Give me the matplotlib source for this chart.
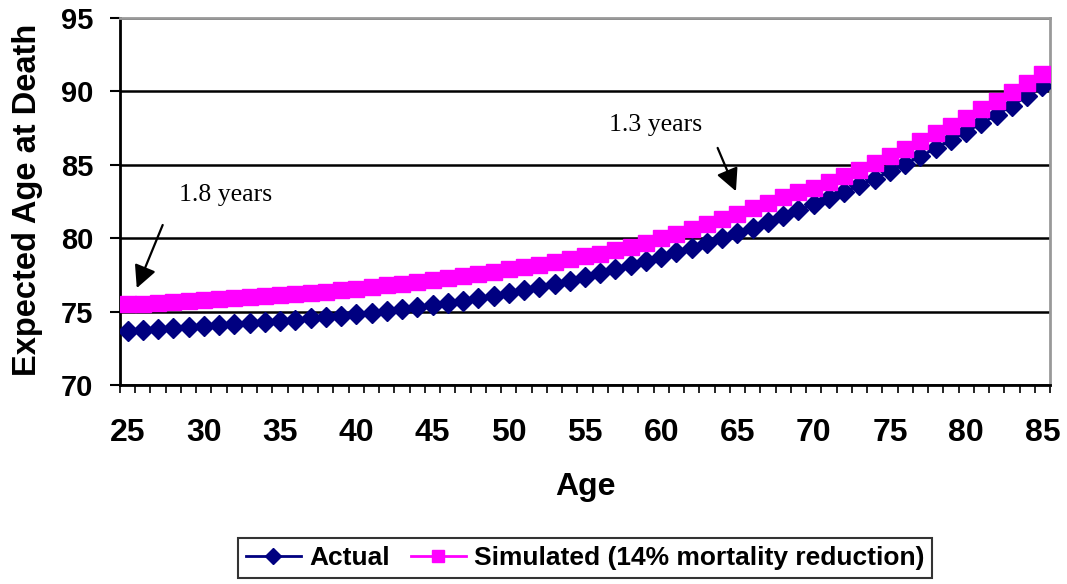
import matplotlib
matplotlib.use("Agg")
import matplotlib.pyplot as plt
import numpy as np

ages = list(range(25, 86))
actual = [73.70, 73.75, 73.82, 73.88, 73.95, 74.02, 74.08, 74.15, 74.23, 74.30,
          74.38, 74.46, 74.54, 74.63, 74.72, 74.82, 74.93, 75.04, 75.16, 75.29,
          75.43, 75.58, 75.74, 75.91, 76.09, 76.28, 76.48, 76.68, 76.89, 77.11,
          77.35, 77.60, 77.87, 78.15, 78.44, 78.74, 79.04, 79.35, 79.68, 80.02,
          80.36, 80.72, 81.10, 81.50, 81.90, 82.30, 82.72, 83.15, 83.60, 84.06,
          84.55, 85.05, 85.58, 86.12, 86.68, 87.25, 87.82, 88.40, 89.02, 89.68,
          90.35]
simulated = [75.50, 75.55, 75.61, 75.66, 75.72, 75.78, 75.84, 75.90, 75.97, 76.04,
             76.11, 76.19, 76.27, 76.36, 76.46, 76.56, 76.67, 76.78, 76.90, 77.02,
             77.15, 77.28, 77.42, 77.57, 77.72, 77.88, 78.04, 78.20, 78.40, 78.58,
             78.76, 78.94, 79.20, 79.43, 79.70, 79.98, 80.27, 80.60, 80.95, 81.30,
             81.68, 82.04, 82.40, 82.78, 83.12, 83.45, 83.82, 84.22, 84.65, 85.10,
             85.57, 86.07, 86.60, 87.14, 87.67, 88.20, 88.78, 89.34, 89.93, 90.54,
             91.17]
yticks = [70, 75, 80, 85, 90, 95]
xlabels = [str(a) for a in ages[::5]]

plt.rcParams['font.family'] = ['Liberation Sans', 'DejaVu Sans']

fig = plt.figure(figsize=(10.67, 5.84), dpi=100)
ax = fig.add_axes([120/1067, 1 - 385/584, 930/1067, 367/584])

x = np.arange(len(ages))
ax.plot(x, actual, color='#000080', lw=2, marker='D', markersize=10.5,
        label='Actual', zorder=3)
ax.plot(x, simulated, color='#FF00FF', lw=2, marker='s', markersize=11.5,
        label='Simulated (14% mortality reduction)', zorder=4)

ax.set_xlim(-0.5, len(ages) - 0.5)
ax.set_ylim(70, 95)
ax.set_yticks(yticks)
ax.set_yticklabels([str(v) for v in yticks], fontsize=21, fontweight='bold')
ax.tick_params(axis='y', length=7, width=1.5, pad=12, direction='out')
ax.set_xticks(x[::5])
ax.set_xticklabels(xlabels, fontsize=23, fontweight='bold')
ax.set_xticks(np.arange(-0.5, len(ages)), minor=True)
ax.tick_params(axis='x', which='major', length=0, pad=24)
ax.tick_params(axis='x', which='minor', length=6, width=1.2, direction='out')
ax.grid(axis='y', color='black', lw=1.8)
ax.set_axisbelow(True)

for s in ['left', 'bottom']:
    ax.spines[s].set_linewidth(2)
    ax.spines[s].set_color('black')
for s in ['top', 'right']:
    ax.spines[s].set_linewidth(2)
    ax.spines[s].set_color('#999999')

arrow = dict(arrowstyle='-|>', color='black', lw=1.6, mutation_scale=34,
             shrinkA=0, shrinkB=0)
ax.annotate('', xy=(0.6, 76.6), xytext=(2.3, 80.9), arrowprops=arrow)
ax.text(3.4, 82.95, '1.8 years', fontsize=18.5, family='Liberation Serif',
        va='center', ha='left')
ax.annotate('', xy=(39.9, 83.2), xytext=(38.7, 86.15), arrowprops=arrow)
ax.text(31.6, 87.7, '1.3 years', fontsize=18.5, family='Liberation Serif',
        va='center', ha='left')

fig.text(28/1067, 1 - 200/584, 'Expected Age at Death', rotation=90,
         ha='center', va='center', fontsize=23.5, fontweight='bold')
fig.text(585/1067, 1 - 487/584, 'Age', ha='center', va='center',
         fontsize=23, fontweight='bold')

leg = fig.legend(loc='center', bbox_to_anchor=(585/1067, 1 - 558/584), ncol=2,
                 frameon=True, fancybox=False, edgecolor='black',
                 prop={'weight': 'bold', 'size': 19},
                 handlelength=2.1, handletextpad=0.3, columnspacing=0.8,
                 borderpad=0.3, markerscale=0.8)
leg.get_frame().set_linewidth(1.5)

fig.savefig('out.png', dpi=100)
